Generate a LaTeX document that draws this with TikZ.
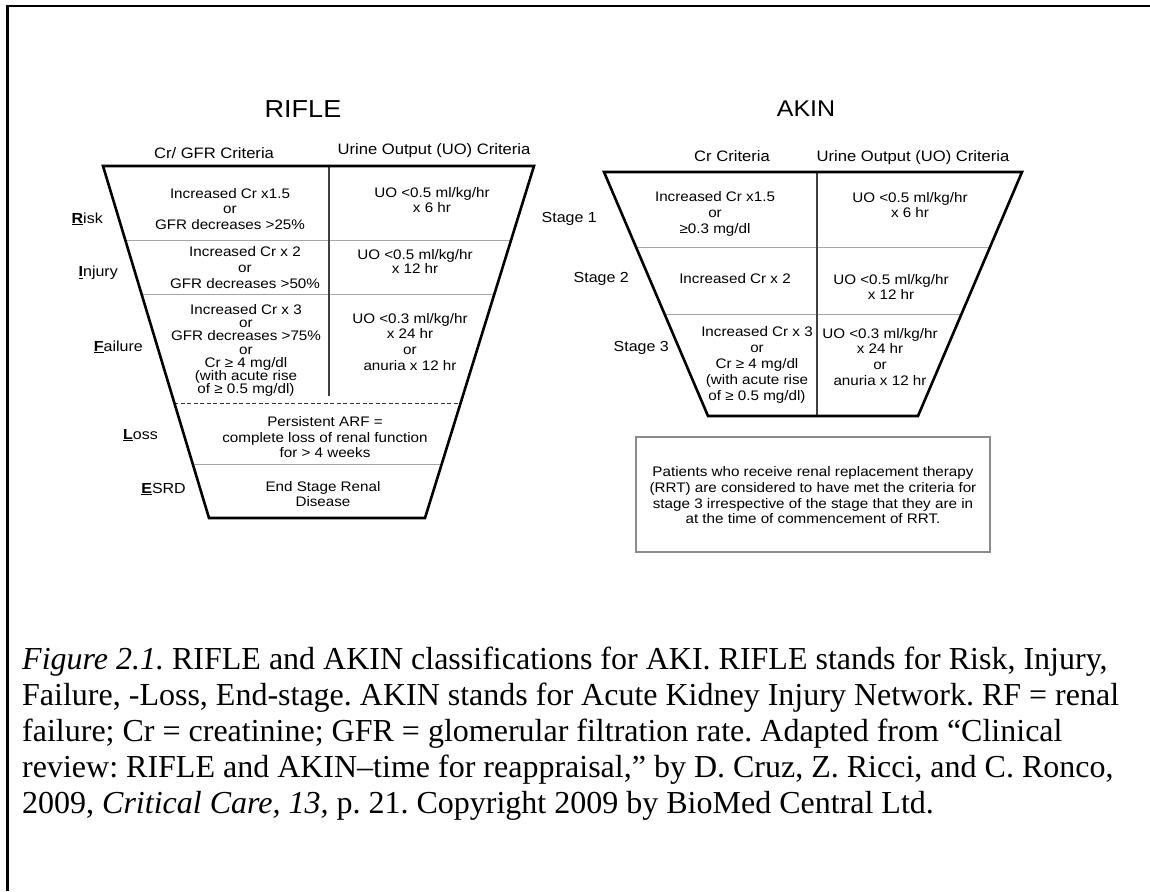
\documentclass[tikz,border=0pt]{standalone}
\usepackage{fontspec}
\setmainfont{Liberation Serif}
\newfontfamily\arialf{Liberation Sans}
\usetikzlibrary{calc}
\frenchspacing
\begin{document}
\begin{tikzpicture}[x=1pt,y=-1pt,
  funnel/.style={line width=2.6pt, line join=miter},
  divider/.style={line width=1.3pt, draw=black!75},
  rowsep/.style={line width=0.9pt, draw=black!35},
  dashsep/.style={line width=1pt, draw=black!80, dash pattern=on 4pt off 2.5pt},
  cell/.style={font=\arialf\fontsize{15.2}{#1}\selectfont, align=center, yscale=0.91, inner sep=0pt},
  cell/.default=17.5,
  head/.style={font=\arialf\fontsize{16.6}{19}\selectfont, yscale=0.91, inner sep=0pt},
  ttl/.style={font=\arialf\fontsize{27}{30}\selectfont, yscale=0.91, inner sep=0pt},
  lbl/.style={font=\arialf\fontsize{16}{18}\selectfont, anchor=east, yscale=0.91, inner sep=0pt},
  notebox/.style={draw=black!45, line width=1.2pt},
  capline/.style={font=\fontsize{32}{36}\selectfont, anchor=base west, inner sep=0pt}]
\useasboundingbox (0,0) rectangle (1150,891);
\fill[white] (0,0) rectangle (1150,891);

% page frame (top and left rules)
\draw[line width=2.2pt] (7.5,891) -- (7.5,6) -- (1150,6);

% ---------------- RIFLE ----------------
\coordinate (rTL) at (103,166);
\coordinate (rTR) at (534,166);
\coordinate (rBR) at (425,518);
\coordinate (rBL) at (209,518);
\draw[rowsep] ($(rTL)!0.2102!(rBL)$) -- ($(rTR)!0.2102!(rBR)$);
\draw[rowsep] ($(rTL)!0.3636!(rBL)$) -- ($(rTR)!0.3636!(rBR)$);
\draw[dashsep] ($(rTL)!0.6733!(rBL)$) -- ($(rTR)!0.6733!(rBR)$);
\draw[rowsep] ($(rTL)!0.8466!(rBL)$) -- ($(rTR)!0.8466!(rBR)$);
\coordinate (rDivTop) at (329,166);
\coordinate (rDivBot) at (329,396);
\draw[divider] (rDivTop) -- (rDivBot);
\draw[funnel] (rTL) -- (rTR) -- (rBR) -- (rBL) -- cycle;

\node[ttl] (rTitle) at (303,109) {RIFLE};
\node[head] (rHeadA) at (214,153) {Cr/ GFR Criteria};
\node[head] (rHeadB) at (434,151) {Urine Output (UO) Criteria};

\node[cell] (r1a) at (230,209) {Increased Cr x1.5\\or\\GFR decreases >25\%};
\node[cell=16.5] (r1b) at (432,200.5) {UO <0.5 ml/kg/hr\\x 6 hr};
\node[cell] (r2a) at (245,267.5) {Increased Cr x 2\\or\\GFR decreases >50\%};
\node[cell=12.8] (r2b) at (415,261.5) {UO <0.5 ml/kg/hr\\x 12 hr};
\node[cell=14.5] (r3a) at (246,350.5) {Increased Cr x 3\\or\\GFR decreases >75\%\\or\\Cr ≥ 4 mg/dl\\(with acute rise\\of ≥ 0.5 mg/dl)};
\node[cell] (r3b) at (410,342) {UO <0.3 ml/kg/hr\\x 24 hr\\or\\anuria x 12 hr};
\node[cell=17] (r4) at (325,437.5) {Persistent ARF =\\complete loss of renal function\\for > 4 weeks};
\node[cell=16.5] (r5) at (323,494.5) {End Stage Renal\\Disease};

\node[lbl] (lRisk) at (103,219) {\underline{\textbf{R}}isk};
\node[lbl] (lInjury) at (118,273) {\underline{\textbf{I}}njury};
\node[lbl] (lFailure) at (143,347) {\underline{\textbf{F}}ailure};
\node[lbl] (lLoss) at (158,435) {\underline{\textbf{L}}oss};
\node[lbl] (lESRD) at (186,489) {\underline{\textbf{E}}SRD};

% ---------------- AKIN ----------------
\coordinate (aTL) at (604,172);
\coordinate (aTR) at (1022,172);
\coordinate (aBR) at (918,416);
\coordinate (aBL) at (708,416);
\draw[rowsep] ($(aTL)!0.3074!(aBL)$) -- ($(aTR)!0.3074!(aBR)$);
\draw[rowsep] ($(aTL)!0.5820!(aBL)$) -- ($(aTR)!0.5820!(aBR)$);
\coordinate (aDivTop) at (817,172);
\coordinate (aDivBot) at (817,416);
\draw[divider] (aDivTop) -- (aDivBot);
\draw[funnel] (aTL) -- (aTR) -- (aBR) -- (aBL) -- cycle;

\node[ttl, font=\arialf\fontsize{25}{28}\selectfont] (aTitle) at (806,109) {AKIN};
\node[head] (aHeadA) at (732,156) {Cr Criteria};
\node[head] (aHeadB) at (913,158) {Urine Output (UO) Criteria};

\node[cell] (a1a) at (715,214) {Increased Cr x1.5\\or\\≥0.3 mg/dl};
\node[cell=16.5] (a1b) at (910,205.5) {UO <0.5 ml/kg/hr\\x 6 hr};
\node[cell] (a2a) at (735,279) {Increased Cr x 2};
\node[cell=16.5] (a2b) at (891,286.5) {UO <0.5 ml/kg/hr\\x 12 hr};
\node[cell] (a3a) at (757,365) {Increased Cr x 3\\or\\Cr ≥ 4 mg/dl\\(with acute rise\\of ≥ 0.5 mg/dl)};
\node[cell] (a3b) at (880,357) {UO <0.3 ml/kg/hr\\x 24 hr\\or\\anuria x 12 hr};

\node[lbl] (lS1) at (597,219) {Stage 1};
\node[lbl] (lS2) at (629,279) {Stage 2};
\node[lbl] (lS3) at (669,348) {Stage 3};

\coordinate (nTL) at (636,437);
\coordinate (nBR) at (990,552);
\draw[notebox] (nTL) rectangle (nBR);
\node[cell=17.2] (note) at (813,495.5) {Patients who receive renal replacement therapy\\(RRT) are considered to have met the criteria for\\stage 3 irrespective of the stage that they are in\\at the time of commencement of RRT.};

% ---------------- caption ----------------
\node[capline] (c1) at (22,669) {\textit{Figure 2.1.} RIFLE and AKIN classifications for AKI. RIFLE stands for Risk, Injury,};
\node[capline] (c2) at (22,705) {Failure, -Loss, End-stage. AKIN stands for Acute Kidney Injury Network. RF = renal};
\node[capline] (c3) at (22,741) {failure; Cr = creatinine; GFR = glomerular filtration rate. Adapted from “Clinical};
\node[capline] (c4) at (22,777) {review: RIFLE and AKIN–time for reappraisal,” by D. Cruz, Z. Ricci, and C. Ronco,};
\node[capline] (c5) at (22,813) {2009, \textit{Critical Care, 13,} p. 21. Copyright 2009 by BioMed Central Ltd.};
\end{tikzpicture}
\end{document}
